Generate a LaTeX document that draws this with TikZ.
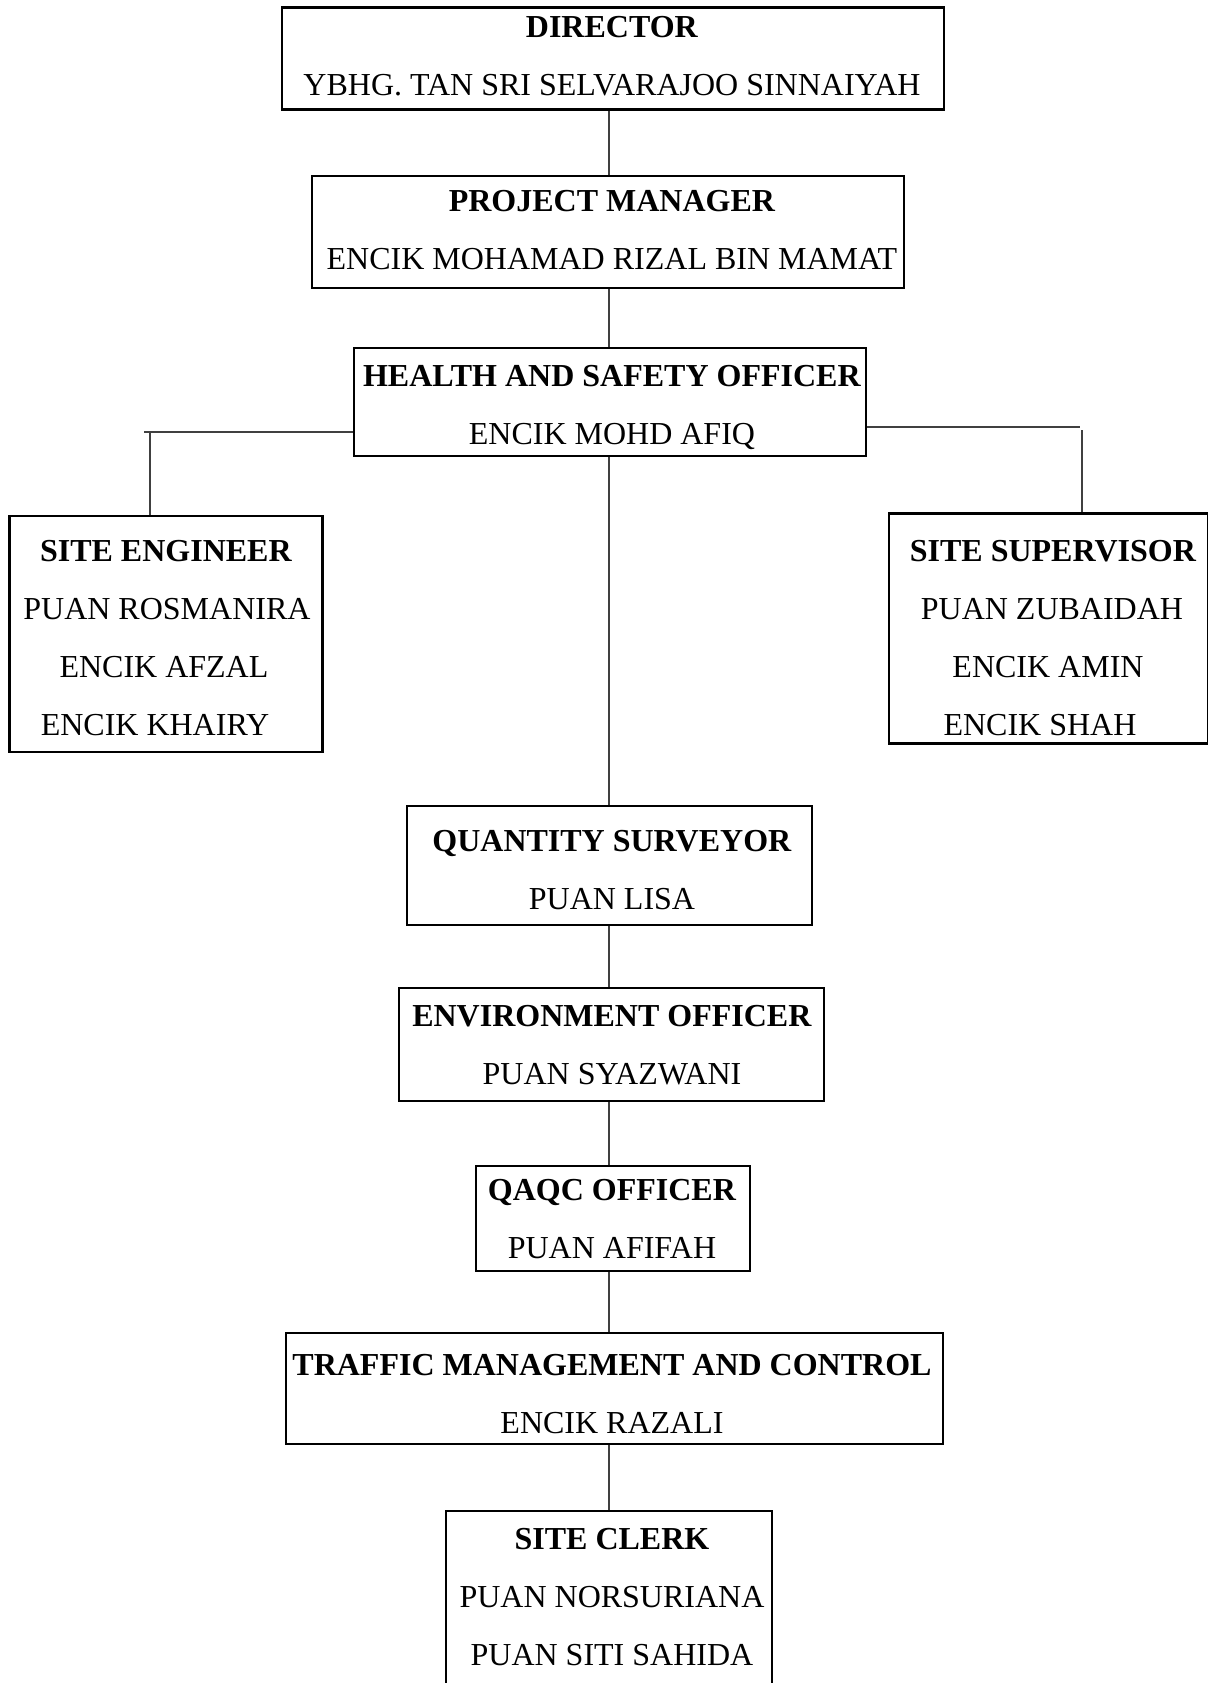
\documentclass[tikz,border=0pt]{standalone}
\usepackage{fontspec}
\setmainfont{Liberation Serif}
\begin{document}
\begin{tikzpicture}[x=0.5pt,y=-0.5pt,
  box/.style={draw,line width=1.3pt,rectangle,inner sep=0pt},
  txt/.style={align=center,font=\fontsize{16}{29}\selectfont,inner sep=0pt,text depth=0pt},
  link/.style={draw=black!75,line width=0.7pt}]
\useasboundingbox (0,0) rectangle (1208,1683);
% boxes
\node[box,minimum width=331pt,minimum height=51pt]   (dir)   at (613,58.5)   {};
\node[box,minimum width=296pt,minimum height=56pt]   (pm)    at (608,232)    {};
\node[box,minimum width=256pt,minimum height=54pt]   (hse)   at (610,402)    {};
\node[box,minimum width=156.5pt,minimum height=118pt] (se)   at (166,634)    {};
\node[box,minimum width=159.5pt,minimum height=115pt] (ss)   at (1048.5,628.5) {};
\node[box,minimum width=202.5pt,minimum height=59.5pt] (qs)  at (609.5,865.5) {};
\node[box,minimum width=212.5pt,minimum height=56.5pt] (env) at (611.5,1044.5) {};
\node[box,minimum width=137pt,minimum height=52.5pt] (qaqc)  at (613,1218.5) {};
\node[box,minimum width=328.5pt,minimum height=55.5pt] (tmc) at (614.5,1388.5) {};
\node[box,minimum width=163pt,minimum height=104.5pt] (clerk) at (609,1615.5) {};
% texts
\node[txt] (dirt)   at (612,55.5)  {\textbf{DIRECTOR}\\YBHG. TAN SRI SELVARAJOO SINNAIYAH};
\node[txt] (pmt)    at (612,230)   {\textbf{PROJECT MANAGER}\\ENCIK MOHAMAD RIZAL BIN MAMAT};
\node[txt] (hset)   at (612,405)   {\textbf{HEALTH AND SAFETY OFFICER}\\ENCIK MOHD AFIQ};
\node[txt] (set)    at (164,637.5) {\hspace*{2pt}\textbf{SITE ENGINEER}\\\hspace*{3pt}PUAN ROSMANIRA\\ENCIK AFZAL\hspace*{3pt}\\ENCIK KHAIRY\hspace*{9pt}};
\node[txt] (sst)    at (1048,637.5) {\hspace*{5pt}\textbf{SITE SUPERVISOR}\\\hspace*{4pt}PUAN ZUBAIDAH\\ENCIK AMIN\hspace*{5pt}\\ENCIK SHAH\hspace*{8pt}};
\node[txt] (qst)    at (612,870)   {\textbf{QUANTITY SURVEYOR}\\PUAN LISA};
\node[txt] (envt)   at (612,1045)  {\textbf{ENVIRONMENT OFFICER}\\PUAN SYAZWANI};
\node[txt] (qaqct)  at (612,1219)  {\textbf{QAQC OFFICER}\\PUAN AFIFAH};
\node[txt] (tmct)   at (612,1394)  {\textbf{TRAFFIC MANAGEMENT AND CONTROL}\\ENCIK RAZALI};
\node[txt] (clerkt) at (612,1597)  {\textbf{SITE CLERK}\\PUAN NORSURIANA\\PUAN SITI SAHIDA};
% connectors
\coordinate (sp) at (609,0);
\draw[link] (dir.south -| sp) -- (pm.north -| sp);
\draw[link] (pm.south -| sp) -- (hse.north -| sp);
\draw[link] (hse.south -| sp) -- (qs.north -| sp);
\draw[link] (qs.south -| sp) -- (env.north -| sp);
\draw[link] (env.south -| sp) -- (qaqc.north -| sp);
\draw[link] (qaqc.south -| sp) -- (tmc.north -| sp);
\draw[link] (tmc.south -| sp) -- (clerk.north -| sp);
\coordinate (lend) at (144,432);
\coordinate (lcol) at (150,0);
\draw[link] (hse.west |- lend) -- (lend);
\draw[link] (lend -| lcol) -- (se.north -| lcol);
\coordinate (rend) at (1080,427);
\coordinate (rtop) at (1082,430);
\draw[link] (hse.east |- rend) -- (rend);
\draw[link] (rtop) -- (ss.north -| rtop);
\end{tikzpicture}
\end{document}
